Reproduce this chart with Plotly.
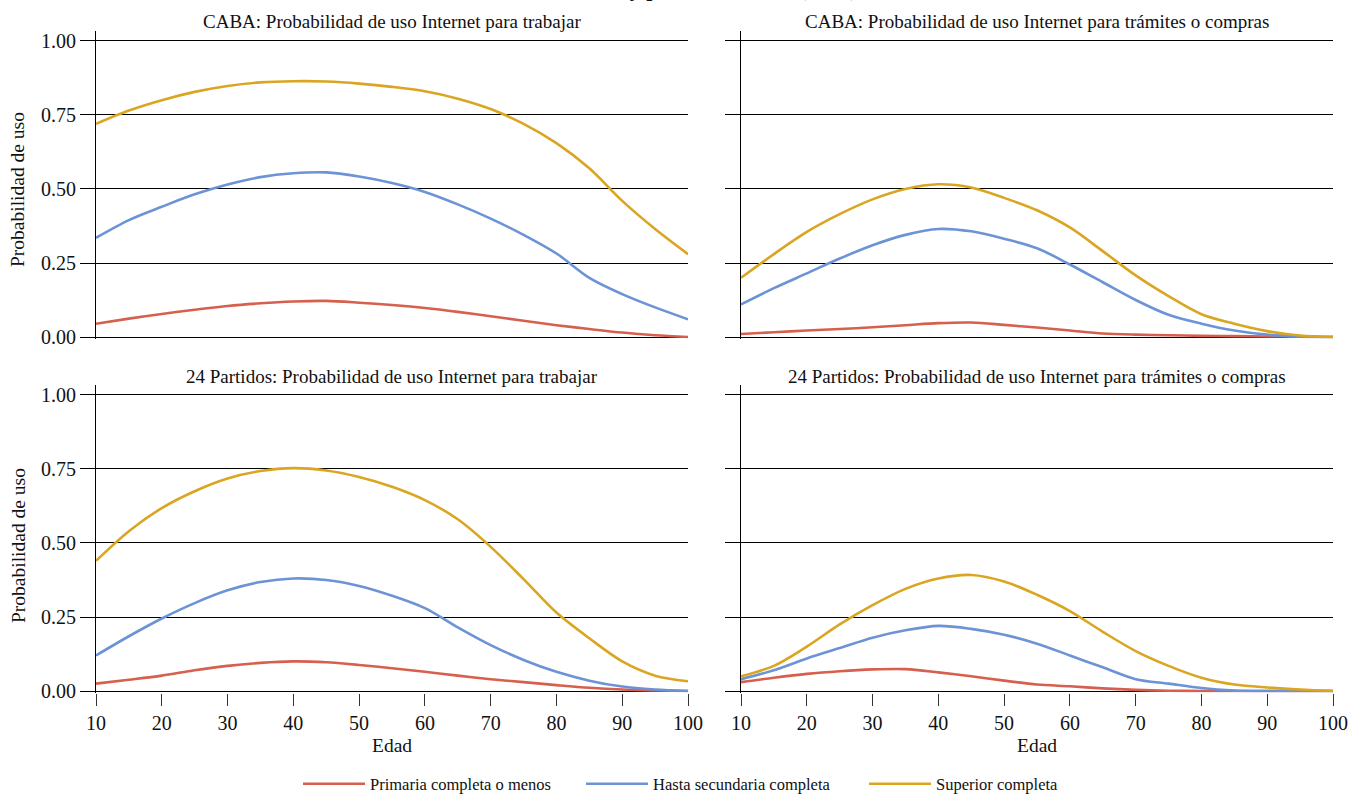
import plotly.graph_objects as go

ages = [10, 15, 20, 25, 30, 35, 40, 45, 50, 55, 60, 65, 70, 75, 80, 85, 90, 95, 100]

series_names = ["Primaria completa o menos", "Hasta secundaria completa", "Superior completa"]
series_colors = ["#D6604D", "#6B93D6", "#DAA520"]

panel_titles = [
    "CABA: Probabilidad de uso Internet para trabajar",
    "CABA: Probabilidad de uso Internet para trámites o compras",
    "24 Partidos: Probabilidad de uso Internet para trabajar",
    "24 Partidos: Probabilidad de uso Internet para trámites o compras",
]

# CABA - trabajar
caba_trab_prim = [0.045, 0.062, 0.078, 0.092, 0.105, 0.114, 0.120, 0.122, 0.116, 0.108, 0.098, 0.085, 0.070, 0.055, 0.040, 0.027, 0.015, 0.006, 0.000]
caba_trab_sec = [0.335, 0.395, 0.440, 0.482, 0.515, 0.540, 0.553, 0.556, 0.542, 0.520, 0.490, 0.448, 0.400, 0.345, 0.282, 0.200, 0.145, 0.100, 0.060]
caba_trab_sup = [0.720, 0.765, 0.800, 0.828, 0.848, 0.860, 0.864, 0.863, 0.856, 0.845, 0.830, 0.805, 0.770, 0.720, 0.655, 0.570, 0.460, 0.365, 0.280]

# CABA - tramites o compras
caba_tram_prim = [0.010, 0.016, 0.022, 0.027, 0.033, 0.040, 0.047, 0.049, 0.041, 0.032, 0.022, 0.012, 0.008, 0.006, 0.004, 0.003, 0.002, 0.001, 0.000]
caba_tram_sec = [0.110, 0.165, 0.215, 0.265, 0.310, 0.345, 0.365, 0.357, 0.332, 0.300, 0.245, 0.185, 0.125, 0.075, 0.045, 0.022, 0.008, 0.002, 0.000]
caba_tram_sup = [0.200, 0.280, 0.355, 0.415, 0.465, 0.500, 0.516, 0.505, 0.470, 0.428, 0.370, 0.290, 0.208, 0.138, 0.077, 0.045, 0.020, 0.005, 0.000]

# 24 Partidos - trabajar
gba_trab_prim = [0.025, 0.038, 0.052, 0.070, 0.085, 0.095, 0.100, 0.097, 0.088, 0.077, 0.065, 0.052, 0.040, 0.030, 0.020, 0.011, 0.005, 0.002, 0.000]
gba_trab_sec = [0.120, 0.185, 0.245, 0.297, 0.340, 0.368, 0.380, 0.375, 0.355, 0.322, 0.280, 0.215, 0.155, 0.105, 0.065, 0.035, 0.015, 0.005, 0.000]
gba_trab_sup = [0.440, 0.540, 0.618, 0.675, 0.718, 0.743, 0.753, 0.745, 0.723, 0.690, 0.645, 0.580, 0.487, 0.378, 0.265, 0.178, 0.100, 0.052, 0.033]

# 24 Partidos - tramites o compras
gba_tram_prim = [0.030, 0.045, 0.058, 0.067, 0.073, 0.074, 0.063, 0.050, 0.035, 0.022, 0.016, 0.009, 0.004, 0.001, 0.000, 0.000, 0.000, 0.000, 0.000]
gba_tram_sec = [0.040, 0.070, 0.110, 0.145, 0.180, 0.205, 0.220, 0.210, 0.190, 0.160, 0.120, 0.080, 0.040, 0.025, 0.010, 0.002, 0.000, 0.000, 0.000]
gba_tram_sup = [0.050, 0.085, 0.150, 0.225, 0.290, 0.345, 0.380, 0.392, 0.370, 0.325, 0.270, 0.200, 0.135, 0.085, 0.045, 0.022, 0.012, 0.005, 0.000]

panels = [
    [caba_trab_prim, caba_trab_sec, caba_trab_sup],
    [caba_tram_prim, caba_tram_sec, caba_tram_sup],
    [gba_trab_prim, gba_trab_sec, gba_trab_sup],
    [gba_tram_prim, gba_tram_sec, gba_tram_sup],
]

y_ticks = [0, 0.25, 0.5, 0.75, 1.0]
y_ticktext = ["0.00", "0.25", "0.50", "0.75", "1.00"]
x_ticks = [10, 20, 30, 40, 50, 60, 70, 80, 90, 100]

W, H = 1349, 795
FONT = "Liberation Serif"

def px_x(p):
    return p / W

def px_y(p):
    return (H - p) / H

x_domains = [[px_x(96), px_x(688)], [px_x(741), px_x(1333)]]
y_domains = [[px_y(338.5), px_y(31.2)], [px_y(692.5), px_y(385.2)]]

fig = go.Figure()

for i, data in enumerate(panels):
    row, col = divmod(i, 2)
    k = "" if i == 0 else str(i + 1)
    for j, vals in enumerate(data):
        fig.add_trace(go.Scatter(
            x=ages, y=vals, mode="lines",
            line=dict(color=series_colors[j], width=2.6, shape="spline", smoothing=0.9),
            name=series_names[j], legendgroup=series_names[j], showlegend=(i == 0),
            xaxis="x" + k, yaxis="y" + k,
        ))
    fig.layout["xaxis" + k] = dict(
        domain=x_domains[col], range=[10, 100], anchor="y" + k, automargin=False,
        tickvals=x_ticks, showticklabels=(row == 1), ticks="outside" if row == 1 else "",
        ticklen=12, tickcolor="#333333", tickwidth=1,
        showgrid=False, zeroline=False, showline=False,
        tickfont=dict(family=FONT, size=20, color="#111111"),
    )
    fig.layout["yaxis" + k] = dict(
        domain=y_domains[row], range=[-0.005, 1.033], anchor="x" + k, automargin=False,
        tickvals=y_ticks, ticktext=y_ticktext, showticklabels=(col == 0),
        ticks="outside", ticklen=15, tickcolor="black", tickwidth=1,
        showgrid=True, gridcolor="black", gridwidth=1, zeroline=False,
        showline=True, linecolor="black", linewidth=1,
        tickfont=dict(family=FONT, size=20, color="#111111"),
    )

annotations = []
title_pos = [(392, 22), (1037, 22), (392, 376), (1037, 376)]
for t, (cx, cy) in zip(panel_titles, title_pos):
    annotations.append(dict(text=t, x=px_x(cx), y=px_y(cy), xref="paper", yref="paper",
                            showarrow=False, xanchor="center", yanchor="middle",
                            font=dict(family=FONT, size=19, color="#111111")))
for cy in (190, 546):
    annotations.append(dict(text="Probabilidad de uso", x=px_x(18), y=px_y(cy), xref="paper", yref="paper",
                            showarrow=False, xanchor="center", yanchor="middle", textangle=-90,
                            font=dict(family=FONT, size=19.5, color="#111111")))
for cx in (392, 1037):
    annotations.append(dict(text="Edad", x=px_x(cx), y=px_y(745), xref="paper", yref="paper",
                            showarrow=False, xanchor="center", yanchor="middle",
                            font=dict(family=FONT, size=19.5, color="#111111")))
annotations.append(dict(text="<b>Internet, edad y perfil educativo (2019)</b>", x=0.5, y=px_y(3),
                        xref="paper", yref="paper", showarrow=False, xanchor="center", yanchor="bottom",
                        font=dict(family=FONT, size=22, color="#111111")))

fig.update_layout(
    width=W, height=H,
    margin=dict(l=0, r=0, t=0, b=0, autoexpand=False),
    paper_bgcolor="white", plot_bgcolor="white",
    annotations=annotations,
    showlegend=True,
    legend=dict(orientation="h", x=px_x(298), xanchor="left", y=px_y(784), yanchor="middle",
                font=dict(family=FONT, size=16.5, color="#111111"), itemwidth=62,
                entrywidth=206, entrywidthmode="pixels",
                bgcolor="rgba(0,0,0,0)"),
)

fig.write_html(
    "out.html",
    config={"displayModeBar": False},
    post_script="document.body.style.margin='0';document.body.style.padding='0';document.body.style.overflow='hidden';",
)
